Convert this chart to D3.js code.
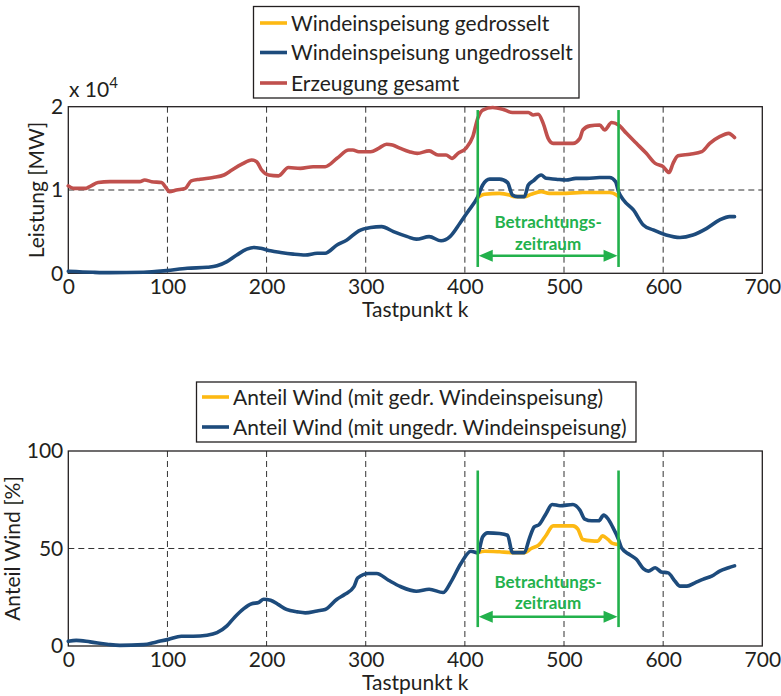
<!DOCTYPE html>
<html><head><meta charset="utf-8">
<script src="https://cdn.jsdelivr.net/npm/d3@7"></script>
<style>
html,body{margin:0;padding:0;background:#fff;}
svg text{font-family:Lato,"Open Sans",sans-serif;fill:#231f20;}
</style></head>
<body><svg id="c" width="781" height="696"></svg>
<script>
// ---------- data ----------
const xTicks = [0,100,200,300,400,500,600,700];
const yTicksTop = [0,1,2];          // units of 10^4 MW
const yTicksBottom = [0,50,100];    // percent
const windowStart = 413, windowEnd = 555;

const legendTop = ["Windeinspeisung gedrosselt","Windeinspeisung ungedrosselt","Erzeugung gesamt"];
const legendBottom = ["Anteil Wind (mit gedr. Windeinspeisung)","Anteil Wind (mit ungedr. Windeinspeisung)"];

const erzeugungGesamt = [[0,1.05],[5,1.02],[18,1.02],[23,1.05],[30,1.09],[42,1.10],[72,1.10],[77,1.12],[84,1.10],[94,1.09],[99,1.02],[102,0.98],[109,1.00],[118,1.02],[124,1.11],[133,1.13],[146,1.15],[157,1.18],[165,1.24],[175,1.31],[185,1.36],[190,1.34],[195,1.24],[202,1.18],[212,1.17],[222,1.27],[234,1.26],[247,1.28],[259,1.28],[271,1.38],[283,1.48],[287,1.48],[293,1.46],[305,1.46],[313,1.50],[321,1.55],[327,1.54],[335,1.50],[344,1.46],[352,1.44],[364,1.47],[373,1.42],[381,1.42],[387,1.38],[393,1.44],[401,1.50],[408,1.64],[413,1.86],[418,1.96],[428,1.99],[438,1.97],[448,1.93],[464,1.93],[469,1.90],[474,1.91],[479,1.80],[484,1.62],[489,1.56],[509,1.56],[516,1.62],[519,1.72],[526,1.77],[536,1.78],[541,1.72],[548,1.81],[555,1.78],[563,1.68],[573,1.56],[583,1.44],[592,1.32],[600,1.28],[606,1.21],[610,1.32],[615,1.41],[627,1.43],[639,1.46],[647,1.56],[657,1.64],[666,1.68],[672,1.63]];

const windUngedrosselt = [[0,0.024],[25,0.012],[42,0.008],[76,0.012],[99,0.032],[120,0.06],[140,0.072],[150,0.09],[160,0.14],[170,0.22],[180,0.29],[187,0.31],[194,0.30],[204,0.27],[214,0.25],[227,0.23],[239,0.22],[251,0.24],[259,0.24],[271,0.34],[281,0.40],[293,0.51],[305,0.55],[316,0.56],[328,0.50],[342,0.44],[351,0.41],[364,0.44],[376,0.39],[385,0.44],[395,0.60],[403,0.74],[413,0.92],[418,1.06],[425,1.13],[435,1.13],[443,1.09],[448,0.94],[453,0.92],[460,0.92],[464,1.06],[469,1.11],[477,1.18],[482,1.14],[492,1.13],[502,1.12],[512,1.14],[523,1.14],[536,1.15],[546,1.15],[552,1.10],[555,0.98],[560,0.88],[570,0.76],[580,0.58],[590,0.52],[603,0.46],[617,0.43],[630,0.46],[644,0.54],[657,0.64],[667,0.68],[672,0.68]];

const windGedrosselt = [[413,0.91],[420,0.95],[435,0.96],[445,0.94],[450,0.92],[460,0.92],[467,0.95],[477,0.98],[485,0.96],[502,0.96],[519,0.97],[546,0.97],[553,0.94],[555,0.92]];

const anteilUngedrosselt = [[0,2.4],[8,2.9],[22,2.1],[39,0.9],[52,0.3],[76,0.7],[89,2.1],[101,3.4],[114,5.0],[126,5.0],[140,5.5],[150,6.8],[160,10.3],[168,14.9],[177,19.2],[185,21.7],[192,22.3],[197,24],[204,23.5],[212,21.2],[220,18.8],[231,17.5],[239,17],[251,18],[259,18.7],[271,24],[279,26.5],[288,30.3],[292,34.9],[303,37.2],[311,37.2],[323,33.7],[335,30.5],[351,28.1],[364,29.1],[378,27.4],[386,32.9],[396,42.3],[406,48.6],[413,47.8],[418,56],[423,58],[435,57.7],[443,56.8],[448,47.9],[460,47.9],[465,55.1],[470,61.1],[475,62.3],[482,68],[488,72.6],[496,71.9],[509,72.6],[516,69.7],[521,65.1],[528,64.2],[535,64.2],[540,67.1],[544,65.4],[549,61.1],[555,54.6],[558,50.3],[566,46.9],[573,44.5],[580,39.7],[585,38.4],[592,40.1],[598,38],[605,37.5],[612,33.2],[617,30.7],[624,30.7],[632,32.4],[640,34.2],[649,35.8],[657,38.4],[666,40.1],[672,41.1]];

const anteilGedrosselt = [[413,47.8],[420,48.6],[435,48.3],[447,47.9],[460,47.9],[467,50],[475,52],[482,56.8],[489,61.6],[509,61.6],[514,59.9],[519,54.6],[528,53.9],[534,53.8],[539,56.5],[544,54.8],[549,52.6],[555,52]];

// ---------- drawing ----------
const C = {yellow:"#FDB913", blue:"#1D4B7C", red:"#C0504D", green:"#22B14C"};
const svg = d3.select("#c");
const FS = 21;

function panel(o){
  const g = svg.append("g");
  const x = d3.scaleLinear().domain([0,700]).range([68.3,762.3]);
  const y = d3.scaleLinear().domain(o.yDomain).range([o.bottom,o.top]);
  // grid
  g.append("g").selectAll("line").data(xTicks.slice(1,-1)).join("line")
    .attr("x1",d=>x(d)).attr("x2",d=>x(d)).attr("y1",o.top).attr("y2",o.bottom)
    .attr("stroke","#333").attr("stroke-width",1).attr("stroke-dasharray","6,4");
  g.append("g").selectAll("line").data(o.yTicks.slice(1,-1)).join("line")
    .attr("y1",d=>y(d)).attr("y2",d=>y(d)).attr("x1",x(0)).attr("x2",x(700))
    .attr("stroke","#333").attr("stroke-width",1).attr("stroke-dasharray","6,4");
  // tick labels via d3 axes
  const ax = g.append("g").attr("transform",`translate(0,${o.bottom})`)
    .call(d3.axisBottom(x).tickValues(xTicks).tickFormat(d3.format("d")).tickSize(0).tickPadding(6));
  ax.select(".domain").remove();
  ax.selectAll("text").attr("font-size",FS).attr("font-family","Lato").attr("fill","#231f20");
  const ay = g.append("g").attr("transform",`translate(${x(0)},0)`)
    .call(d3.axisLeft(y).tickValues(o.yTicks).tickFormat(d3.format("d")).tickSize(0).tickPadding(5));
  ay.select(".domain").remove();
  ay.selectAll("text").attr("font-size",FS).attr("font-family","Lato").attr("fill","#231f20");
  // box
  g.append("rect").attr("x",x(0)).attr("y",o.top).attr("width",x(700)-x(0)).attr("height",o.bottom-o.top)
    .attr("fill","none").attr("stroke","#231f20").attr("stroke-width",1.3);
  // lines
  const line = d3.line().x(d=>x(d[0])).y(d=>y(d[1])).curve(d3.curveMonotoneX);
  o.series.forEach(s=>{
    g.append("path").datum(s.data).attr("d",line).attr("fill","none")
      .attr("stroke",s.color).attr("stroke-width",3.6).attr("stroke-linejoin","round").attr("stroke-linecap","round");
  });
  // window
  [windowStart,windowEnd].forEach(k=>{
    g.append("line").attr("x1",x(k)).attr("x2",x(k)).attr("y1",y(o.win[0])).attr("y2",y(o.win[1]))
      .attr("stroke",C.green).attr("stroke-width",2.6);
  });
  const ya = y(o.arrowY), x1 = x(windowStart), x2 = x(windowEnd), ah = 15, aw = 6;
  g.append("line").attr("x1",x1+ah-2).attr("x2",x2-ah+2).attr("y1",ya).attr("y2",ya).attr("stroke",C.green).attr("stroke-width",2.6);
  g.append("path").attr("d",`M${x1+1},${ya}L${x1+ah},${ya-aw}L${x1+ah},${ya+aw}Z`).attr("fill",C.green);
  g.append("path").attr("d",`M${x2-1},${ya}L${x2-ah},${ya-aw}L${x2-ah},${ya+aw}Z`).attr("fill",C.green);
  const xm = x(484);
  g.append("text").attr("x",xm).attr("y",y(o.txt[0])).attr("text-anchor","middle").attr("font-weight","bold")
    .attr("font-size",17).style("fill",C.green).text("Betrachtungs-");
  g.append("text").attr("x",xm).attr("y",y(o.txt[1])).attr("text-anchor","middle").attr("font-weight","bold")
    .attr("font-size",17).style("fill",C.green).text("zeitraum");
  // x label
  g.append("text").attr("x",(x(0)+x(700))/2).attr("y",o.bottom+44).attr("text-anchor","middle")
    .attr("font-size",FS).text("Tastpunkt k");
  // y label
  g.append("text").attr("transform",`translate(${o.ylabX},${(o.top+o.bottom)/2}) rotate(-90)`)
    .attr("text-anchor","middle").attr("font-size",FS).text(o.ylabel);
  return {x,y,g};
}

const p1 = panel({top:106.7,bottom:273.3,yDomain:[0,2],yTicks:yTicksTop,
  series:[{data:windGedrosselt,color:C.yellow},{data:windUngedrosselt,color:C.blue},{data:erzeugungGesamt,color:C.red}],
  win:[0.076,1.96],arrowY:0.21,txt:[0.54,0.28],ylabel:"Leistung [MW]",ylabX:44});
const p2 = panel({top:451,bottom:646,yDomain:[0,100],yTicks:yTicksBottom,
  series:[{data:anteilGedrosselt,color:C.yellow},{data:anteilUngedrosselt,color:C.blue}],
  win:[9.7,90],arrowY:15,txt:[29.7,19],ylabel:"Anteil Wind [%]",ylabX:20});
// exponent label
const ex = svg.append("text").attr("x",69).attr("y",97).attr("font-size",FS);
ex.append("tspan").text("x 10");
ex.append("tspan").attr("dy",-9).attr("font-size",15).text("4");

// legends
function legend(items, colors, bx, by, bw, bh, rowY, lx){
  svg.append("rect").attr("x",bx).attr("y",by).attr("width",bw).attr("height",bh)
    .attr("fill","#fff").attr("stroke","#231f20").attr("stroke-width",1.3);
  items.forEach((t,i)=>{
    svg.append("line").attr("x1",lx).attr("x2",lx+27).attr("y1",rowY[i]).attr("y2",rowY[i])
      .attr("stroke",colors[i]).attr("stroke-width",3.6);
    svg.append("text").attr("x",lx+31).attr("y",rowY[i]+7.5).attr("font-size",FS).text(t);
  });
}
legend(legendTop,[C.yellow,C.blue,C.red],253.5,6.5,325.5,91.5,[23,52.5,83],260);
legend(legendBottom,[C.yellow,C.blue],196.5,382,439.5,60,[397,427],202);
</script></body></html>
